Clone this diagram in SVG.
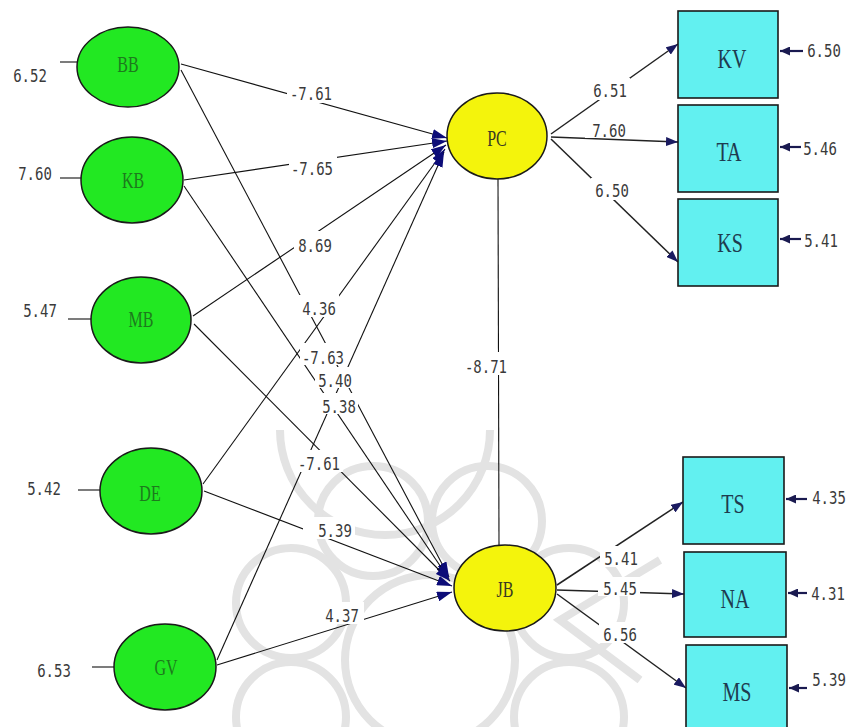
<svg xmlns="http://www.w3.org/2000/svg" width="854" height="727" viewBox="0 0 854 727">
<defs>
<style>
.num{font-family:"DejaVu Sans Mono","Liberation Mono",monospace;font-size:14px;fill:#3a3a3a;text-anchor:middle}
.lat{font-family:"Liberation Serif",serif;font-size:16px;text-anchor:middle}
.obs{font-family:"Liberation Serif",serif;font-size:20px;fill:#1e3b4f;text-anchor:middle}
.exo{fill:#22e822;stroke:#1a1a1a;stroke-width:1.5}
.endo{fill:#f4f40c;stroke:#1a1a1a;stroke-width:1.5}
.box{fill:#62f0f0;stroke:#1a1a1a;stroke-width:1.6}
.ln{stroke:#111;stroke-width:1.1;fill:none}
.ld{stroke:#222;stroke-width:1.5;fill:none}
.er{stroke:#1a1a50;stroke-width:2.2;fill:none}
.bg{fill:#fff}
.wm{fill:none;stroke:#e3e3e3;stroke-width:8}
</style>
<marker id="aS" markerUnits="userSpaceOnUse" markerWidth="15" markerHeight="10" refX="15" refY="5" orient="auto"><path d="M0,0 L15,5 L0,10 z" fill="#0c0c78"/></marker>
<marker id="aL" markerUnits="userSpaceOnUse" markerWidth="12" markerHeight="9" refX="12" refY="4.5" orient="auto"><path d="M0,0 L12,4.5 L0,9 z" fill="#1a1a60"/></marker>
<marker id="aE" markerUnits="userSpaceOnUse" markerWidth="10" markerHeight="9" refX="10" refY="4.5" orient="auto"><path d="M0,0 L10,4.5 L0,9 z" fill="#1a1a50"/></marker>
</defs>
<rect width="854" height="727" fill="#fff"/>

<g id="watermark" class="wm">
<path d="M280,430 A105,105 0 0 0 490,430"/>
<circle cx="430" cy="660" r="85"/>
<circle cx="569" cy="603" r="55"/>
<circle cx="487" cy="521" r="55"/>
<circle cx="373" cy="521" r="55"/>
<circle cx="291" cy="603" r="55"/>
<circle cx="291" cy="717" r="55"/>
<circle cx="569" cy="717" r="55"/>
<path d="M660,560 L560,620 L640,680"/>
</g>

<g id="connectors">
<g class="ln">
<line x1="181" y1="64" x2="447" y2="138" marker-end="url(#aS)"/>
<line x1="181" y1="70" x2="449" y2="577" marker-end="url(#aS)"/>
<line x1="184" y1="180" x2="447" y2="141" marker-end="url(#aS)"/>
<line x1="184" y1="186" x2="449" y2="579" marker-end="url(#aS)"/>
<line x1="193" y1="316" x2="446" y2="145" marker-end="url(#aS)"/>
<line x1="194" y1="324" x2="450" y2="581" marker-end="url(#aS)"/>
<line x1="203" y1="484" x2="445" y2="149" marker-end="url(#aS)"/>
<line x1="204" y1="491" x2="452" y2="586" marker-end="url(#aS)"/>
<line x1="217" y1="660" x2="444" y2="152" marker-end="url(#aS)"/>
<line x1="217" y1="665" x2="452" y2="592" marker-end="url(#aS)"/>
<line x1="498" y1="179" x2="499" y2="545"/>
<line x1="60" y1="62" x2="77" y2="62"/>
<line x1="60" y1="178" x2="82" y2="178"/>
<line x1="68" y1="319" x2="91" y2="319"/>
<line x1="78" y1="490" x2="100" y2="490"/>
<line x1="92" y1="667" x2="114" y2="667"/>
</g>
<g class="ld">
<line x1="551" y1="134" x2="678" y2="44" marker-end="url(#aL)"/>
<line x1="551" y1="137" x2="678" y2="142" marker-end="url(#aL)"/>
<line x1="551" y1="139" x2="678" y2="262" marker-end="url(#aL)"/>
<line x1="557" y1="585" x2="683" y2="502" marker-end="url(#aL)"/>
<line x1="557" y1="590" x2="684" y2="594" marker-end="url(#aL)"/>
<line x1="557" y1="594" x2="686" y2="688" marker-end="url(#aL)"/>
</g>
<g class="er">
<line x1="803" y1="51" x2="780" y2="51" marker-end="url(#aE)"/>
<line x1="801" y1="147" x2="780" y2="147" marker-end="url(#aE)"/>
<line x1="801" y1="239" x2="780" y2="239" marker-end="url(#aE)"/>
<line x1="807" y1="499" x2="786" y2="499" marker-end="url(#aE)"/>
<line x1="807" y1="593" x2="788" y2="593" marker-end="url(#aE)"/>
<line x1="807" y1="688" x2="789" y2="688" marker-end="url(#aE)"/>
</g>
<g id="label-bg" class="bg">
<rect x="287" y="80" width="48" height="23"/>
<rect x="289" y="155" width="48" height="23"/>
<rect x="294" y="231" width="42" height="23"/>
<rect x="299" y="295" width="40" height="22"/>
<rect x="300" y="343" width="46" height="22"/>
<rect x="315" y="367" width="40" height="21"/>
<rect x="320" y="393" width="38" height="21"/>
<rect x="295" y="450" width="48" height="22"/>
<rect x="303" y="517" width="52" height="22"/>
<rect x="322" y="602" width="42" height="22"/>
<rect x="462" y="352" width="48" height="23"/>
<rect x="588" y="78" width="42" height="22"/>
<rect x="585" y="118" width="52" height="20"/>
<rect x="591" y="178" width="42" height="22"/>
<rect x="600" y="546" width="40" height="21"/>
<rect x="598" y="577" width="42" height="19"/>
<rect x="599" y="622" width="40" height="21"/>
</g>
<g id="labels">
<text class="num" transform="translate(311,99.5) scale(1,1.25)">-7.61</text>
<text class="num" transform="translate(312,174.5) scale(1,1.25)">-7.65</text>
<text class="num" transform="translate(315,251.5) scale(1,1.25)">8.69</text>
<text class="num" transform="translate(319,314.5) scale(1,1.25)">4.36</text>
<text class="num" transform="translate(323,363.5) scale(1,1.25)">-7.63</text>
<text class="num" transform="translate(335,386.5) scale(1,1.25)">5.40</text>
<text class="num" transform="translate(339,412.5) scale(1,1.25)">5.38</text>
<text class="num" transform="translate(319,469.5) scale(1,1.25)">-7.61</text>
<text class="num" transform="translate(335,536.5) scale(1,1.25)">5.39</text>
<text class="num" transform="translate(342,621.5) scale(1,1.25)">4.37</text>
<text class="num" transform="translate(486,372.5) scale(1,1.25)">-8.71</text>
<text class="num" transform="translate(610,96.5) scale(1,1.25)">6.51</text>
<text class="num" transform="translate(609,136.5) scale(1,1.25)">7.60</text>
<text class="num" transform="translate(612,196.5) scale(1,1.25)">6.50</text>
<text class="num" transform="translate(621,564.5) scale(1,1.25)">5.41</text>
<text class="num" transform="translate(620,594.5) scale(1,1.25)">5.45</text>
<text class="num" transform="translate(620,640.5) scale(1,1.25)">6.56</text>
<text class="num" transform="translate(30,81.5) scale(1,1.25)">6.52</text>
<text class="num" transform="translate(35,179.5) scale(1,1.25)">7.60</text>
<text class="num" transform="translate(40,316.5) scale(1,1.25)">5.47</text>
<text class="num" transform="translate(44,494.5) scale(1,1.25)">5.42</text>
<text class="num" transform="translate(54,676.5) scale(1,1.25)">6.53</text>
<text class="num" transform="translate(824,56.5) scale(1,1.25)">6.50</text>
<text class="num" transform="translate(820,154.5) scale(1,1.25)">5.46</text>
<text class="num" transform="translate(821,246.5) scale(1,1.25)">5.41</text>
<text class="num" transform="translate(829,503.5) scale(1,1.25)">4.35</text>
<text class="num" transform="translate(828,599.5) scale(1,1.25)">4.31</text>
<text class="num" transform="translate(829,685.5) scale(1,1.25)">5.39</text>
</g>
</g>

<g id="node-BB"><ellipse class="exo" cx="128" cy="67" rx="51" ry="40"/><text class="lat" fill="#1d7a1d" transform="translate(128,72) scale(1,1.4)">BB</text></g>
<g id="node-KB"><ellipse class="exo" cx="132" cy="180" rx="51" ry="43"/><text class="lat" fill="#1d7a1d" transform="translate(133,188) scale(1,1.4)">KB</text></g>
<g id="node-MB"><ellipse class="exo" cx="141" cy="320" rx="50" ry="43"/><text class="lat" fill="#1d7a1d" transform="translate(141,327) scale(1,1.4)">MB</text></g>
<g id="node-DE"><ellipse class="exo" cx="151" cy="491" rx="51" ry="43"/><text class="lat" fill="#1d7a1d" transform="translate(150,501) scale(1,1.4)">DE</text></g>
<g id="node-GV"><ellipse class="exo" cx="165" cy="667" rx="51" ry="43"/><text class="lat" fill="#1d7a1d" transform="translate(166,675) scale(1,1.4)">GV</text></g>
<g id="node-PC"><ellipse class="endo" cx="497" cy="136" rx="50" ry="43"/><text class="lat" fill="#3a3a22" transform="translate(497,146) scale(1,1.4)">PC</text></g>
<g id="node-JB"><ellipse class="endo" cx="505" cy="588" rx="51" ry="43"/><text class="lat" fill="#3a3a22" transform="translate(505,597) scale(1,1.4)">JB</text></g>

<g id="node-KV"><rect class="box" x="678" y="11" width="100" height="87"/><text class="obs" transform="translate(732,68) scale(1,1.35)">KV</text></g>
<g id="node-TA"><rect class="box" x="678" y="105" width="100" height="87"/><text class="obs" transform="translate(729,161) scale(1,1.35)">TA</text></g>
<g id="node-KS"><rect class="box" x="678" y="199" width="100" height="87"/><text class="obs" transform="translate(730,252) scale(1,1.35)">KS</text></g>
<g id="node-TS"><rect class="box" x="683" y="457" width="101" height="87"/><text class="obs" transform="translate(733,513) scale(1,1.35)">TS</text></g>
<g id="node-NA"><rect class="box" x="684" y="552" width="102" height="85"/><text class="obs" transform="translate(735,608) scale(1,1.35)">NA</text></g>
<g id="node-MS"><rect class="box" x="686" y="645" width="101" height="87"/><text class="obs" transform="translate(737,701) scale(1,1.35)">MS</text></g>
</svg>
